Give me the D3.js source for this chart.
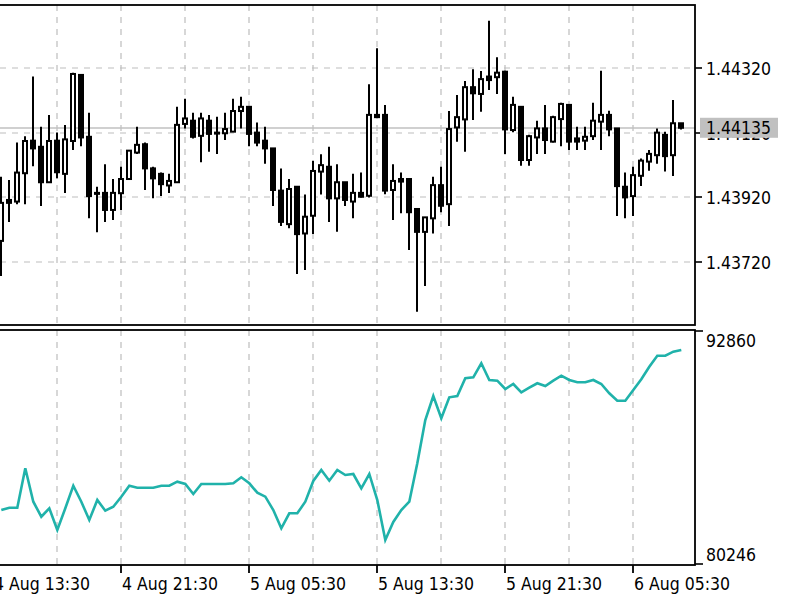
<!DOCTYPE html>
<html><head><meta charset="utf-8">
<script src="https://cdn.jsdelivr.net/npm/d3@7"></script>
<style>body{margin:0;background:#fff;} svg{display:block}</style>
</head><body>
<svg id="c" width="800" height="600"></svg>
<script>
// ---- DATA (EURUSD-like M30 candles) ----
const opens  = [1.43784,1.43911,1.43906,1.43994,1.44095,1.44076,1.43966,1.44095,1.43992,1.44094,
                1.44299,1.44107,1.43933,1.43933,1.43880,1.43932,1.43976,1.44058,1.44084,1.44009,
                1.43992,1.43956,1.43966,1.44147,1.44157,1.44110,1.44157,1.44120,1.44118,1.44123,
                1.44187,1.44200,1.44120,1.44095,1.44071,1.43940,1.43836,1.43952,1.43807,1.43862,
                1.43999,1.44014,1.43916,1.43966,1.43906,1.43933,1.43924,1.44175,1.44175,1.43942,
                1.43976,1.43976,1.43883,1.43812,1.43854,1.43957,1.43898,1.44136,1.44161,1.44261,
                1.44240,1.44294,1.44292,1.44309,1.44128,1.44200,1.44035,1.44105,1.44133,1.44092,
                1.44162,1.44206,1.44102,1.44095,1.44109,1.44154,1.44175,1.44133,1.43952,1.43923,
                1.43986,1.44030,1.44050,1.44113,1.44050,1.44149];
const highs  = [1.43983,1.43973,1.44089,1.44109,1.44294,1.44138,1.44175,1.44120,1.44144,1.44306,
                1.44300,1.44182,1.43952,1.44022,1.43976,1.44014,1.44066,1.44138,1.44089,1.44014,
                1.43996,1.43992,1.44200,1.44225,1.44182,1.44182,1.44175,1.44169,1.44182,1.44225,
                1.44231,1.44201,1.44151,1.44138,1.44072,1.44009,1.43976,1.43953,1.43928,1.44033,
                1.44053,1.44076,1.44022,1.43967,1.43992,1.43996,1.44270,1.44382,1.44206,1.44022,
                1.43996,1.43977,1.43884,1.43858,1.43983,1.44014,1.44187,1.44237,1.44280,1.44317,
                1.44311,1.44467,1.44354,1.44312,1.44231,1.44201,1.44113,1.44157,1.44206,1.44172,
                1.44213,1.44207,1.44138,1.44138,1.44213,1.44312,1.44188,1.44134,1.43996,1.44014,
                1.44040,1.44066,1.44133,1.44123,1.44221,1.44150];
const lows   = [1.43675,1.43843,1.43898,1.43898,1.44016,1.43892,1.43964,1.43978,1.43933,1.44066,
                1.44078,1.43854,1.43811,1.43843,1.43849,1.43880,1.43973,1.44054,1.43942,1.43916,
                1.43923,1.43933,1.43964,1.44133,1.44102,1.44028,1.44061,1.44054,1.44097,1.44122,
                1.44133,1.44078,1.44078,1.44023,1.43892,1.43830,1.43823,1.43681,1.43694,1.43805,
                1.43928,1.43843,1.43812,1.43892,1.43854,1.43919,1.43919,1.44167,1.43929,1.43849,
                1.43870,1.43756,1.43564,1.43644,1.43807,1.43873,1.43830,1.44092,1.44061,1.44159,
                1.44185,1.44252,1.44240,1.44054,1.44121,1.44017,1.44017,1.44054,1.44054,1.44089,
                1.44078,1.44066,1.44066,1.44066,1.44097,1.44066,1.44109,1.43861,1.43854,1.43861,
                1.43954,1.44002,1.44023,1.43999,1.43985,1.44130];
const closes = [1.43902,1.43902,1.43996,1.44094,1.44071,1.43966,1.44094,1.43997,1.44099,1.44302,
                1.44105,1.43923,1.43932,1.43880,1.43933,1.43976,1.44064,1.44082,1.44009,1.43978,
                1.43960,1.43970,1.44144,1.44164,1.44107,1.44164,1.44116,1.44119,1.44131,1.44187,
                1.44200,1.44116,1.44089,1.44071,1.43942,1.43843,1.43945,1.43805,1.43859,1.44001,
                1.44019,1.43916,1.43966,1.43911,1.43933,1.43921,1.44175,1.44168,1.43940,1.43970,
                1.43968,1.43873,1.43812,1.43857,1.43957,1.43893,1.44131,1.44168,1.44261,1.44242,
                1.44286,1.44283,1.44306,1.44130,1.44206,1.44035,1.44109,1.44133,1.44097,1.44168,
                1.44209,1.44092,1.44092,1.44107,1.44157,1.44175,1.44130,1.43954,1.43919,1.43988,
                1.44033,1.44054,1.44120,1.44047,1.44149,1.44135];
// indicator line (lower window)
const indicator = [83198,83322,83322,85437,83644,82839,83290,82125,83290,84503,
                   83644,82662,83735,83161,83376,83912,84503,84395,84395,84395,
                   84503,84503,84718,84594,84057,84594,84594,84594,84594,84632,
                   84954,84632,84127,83912,83198,82216,83021,83021,83644,84755,
                   85346,84771,85346,85077,85131,84363,85131,83735,81588,82554,
                   83198,83644,85705,88030,89318,88121,89248,89318,90268,90322,
                   91073,90177,90139,89694,89962,89516,89763,90000,89855,90139,
                   90408,90177,90053,90053,90177,89962,89463,89066,89066,89640,
                   90214,90891,91481,91481,91696,91787];
const priceTicks = [1.43720, 1.43920, 1.44120, 1.44320];
const currentPrice = 1.44135;
const indMin = 80246, indMax = 92860;
const timeTickIdx = [-1, 15, 31, 47, 63, 79];
const timeTickLabels = ["4 Aug 13:30","4 Aug 21:30","5 Aug 05:30","5 Aug 13:30","5 Aug 21:30","6 Aug 05:30"];

// ---- LAYOUT ----
const svg = d3.select("#c");
const R = 695, top1 = 5, bot1 = 325, top2 = 330, bot2 = 565;
const FONT = '"DejaVu Sans Condensed","DejaVu Sans",sans-serif';
const FS = 17.5;

const x = d3.scaleLinear().domain([0, 85]).range([1.3, 681.3]);
const y = d3.scaleLinear().domain([1.43523, 1.44516]).range([bot1, top1]);
const y2 = d3.scaleLinear().domain([indMin, indMax]).range([bot2, top2]);
const X = i => Math.round(x(i));

svg.append("rect").attr("width", 800).attr("height", 600).attr("fill", "#fff");

// grid
const gridIdx = d3.range(7, 86, 8);
const grid = svg.append("g").attr("stroke", "#bdbdbd").attr("stroke-width", 1.2).attr("stroke-dasharray", "6,6");
gridIdx.forEach(i => {
  grid.append("line").attr("x1", X(i)).attr("x2", X(i)).attr("y1", top1).attr("y2", bot1);
  grid.append("line").attr("x1", X(i)).attr("x2", X(i)).attr("y1", top2).attr("y2", bot2);
});
priceTicks.forEach(p => {
  grid.append("line").attr("x1", 0).attr("x2", R).attr("y1", Math.round(y(p))).attr("y2", Math.round(y(p)));
});

// current price line
svg.append("line").attr("x1", 0).attr("x2", R)
  .attr("y1", Math.round(y(currentPrice))).attr("y2", Math.round(y(currentPrice)))
  .attr("stroke", "#c0c0c0").attr("stroke-width", 1.3);

// candles
const candles = svg.append("g");
const data = opens.map((o, i) => ({i, o, h: highs[i], l: lows[i], c: closes[i]}));
candles.selectAll("line.w").data(data).join("line")
  .attr("x1", d => X(d.i)).attr("x2", d => X(d.i))
  .attr("y1", d => y(d.h)).attr("y2", d => y(d.l))
  .attr("stroke", "#000").attr("stroke-width", 2);
candles.selectAll("rect.b").data(data).join("rect")
  .attr("x", d => X(d.i) - 2).attr("width", 4)
  .attr("y", d => Math.min(y(d.o), y(d.c)))
  .attr("height", d => Math.max(Math.abs(y(d.o) - y(d.c)), 1))
  .attr("fill", d => d.c >= d.o ? "#fff" : "#000")
  .attr("stroke", "#000").attr("stroke-width", 2);

// indicator line
svg.append("path").datum(indicator)
  .attr("d", d3.line().x((d, i) => x(i)).y(d => y2(d)))
  .attr("fill", "none").attr("stroke", "#20b2aa").attr("stroke-width", 2.6)
  .attr("stroke-linejoin", "miter");

// borders
const bd = svg.append("g").attr("fill", "none").attr("stroke", "#000").attr("stroke-width", 1.8);
bd.append("rect").attr("x", -5).attr("y", top1).attr("width", R + 5).attr("height", bot1 - top1);
bd.append("rect").attr("x", -5).attr("y", top2).attr("width", R + 5).attr("height", bot2 - top2);

// price axis ticks and labels
const ax = svg.append("g").attr("font-family", FONT).attr("font-size", FS).attr("fill", "#000");
priceTicks.forEach(p => {
  const yy = Math.round(y(p));
  svg.append("line").attr("x1", R).attr("x2", R + 7).attr("y1", yy).attr("y2", yy)
    .attr("stroke", "#000").attr("stroke-width", 1.6);
  ax.append("text").attr("x", R + 11).attr("y", yy + 6.5).text(d3.format(".5f")(p));
});
// current price box
const cy = y(currentPrice);
svg.append("rect").attr("x", 700).attr("y", cy - 10).attr("width", 78).attr("height", 20).attr("fill", "#c0c0c0");
svg.append("text").attr("x", R + 11).attr("y", cy + 6.5)
  .attr("font-family", FONT).attr("font-size", FS).attr("fill", "#000").text(d3.format(".5f")(currentPrice));

// indicator scale
[[indMax, top2 + 1, top2 + 17], [indMin, bot2 - 1, bot2 - 4]].forEach(([v, ty, by]) => {
  svg.append("line").attr("x1", R).attr("x2", R + 8).attr("y1", ty).attr("y2", ty)
    .attr("stroke", "#000").attr("stroke-width", 1.6);
  ax.append("text").attr("x", R + 11).attr("y", by).text(v);
});

// time axis
timeTickIdx.forEach((ti, k) => {
  const xx = X(ti);
  svg.append("line").attr("x1", xx).attr("x2", xx).attr("y1", bot2).attr("y2", bot2 + 8)
    .attr("stroke", "#000").attr("stroke-width", 1.8);
  ax.append("text").attr("x", xx + 1).attr("y", 589.5).text(timeTickLabels[k]);
});
</script>
</body></html>
